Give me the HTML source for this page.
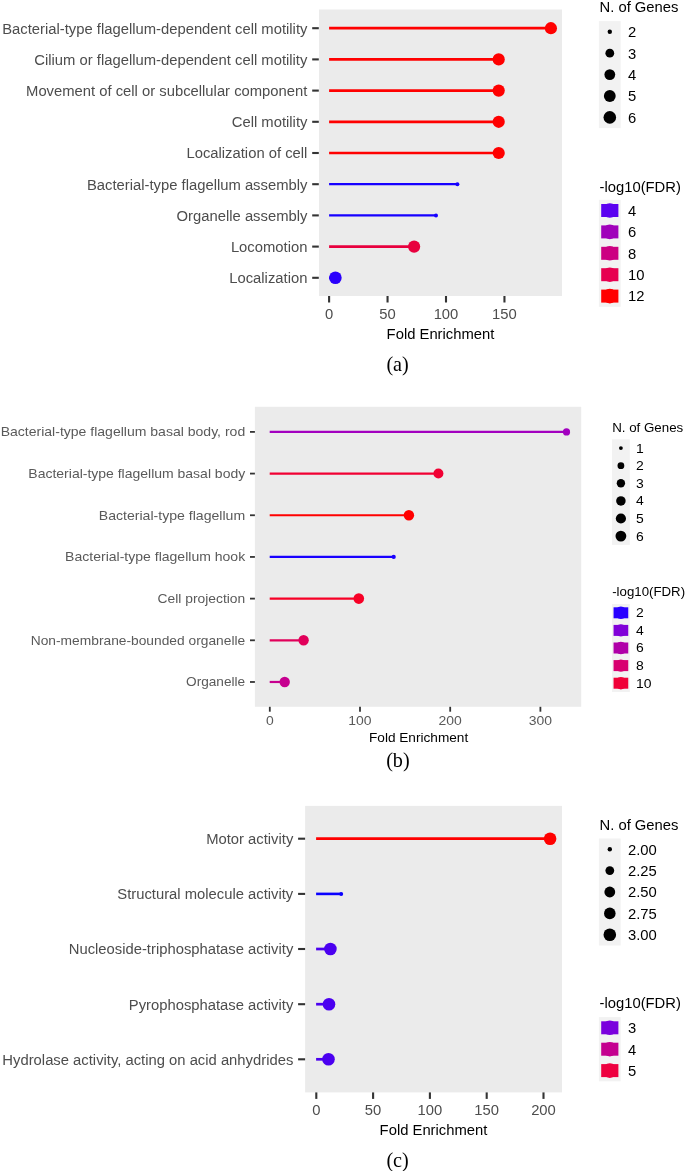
<!DOCTYPE html>
<html><head><meta charset="utf-8"><style>
html,body{margin:0;padding:0;background:#fff;overflow:hidden;}
svg{display:block;will-change:transform;}
text{font-family:"Liberation Sans",sans-serif;}
</style></head><body>
<svg width="685" height="1171" viewBox="0 0 685 1171">
<rect width="685" height="1171" fill="#fff"/>
<rect x="319" y="9.5" width="243" height="286.5" fill="#EBEBEB"/>
<line x1="312.2" y1="28.2" x2="318.8" y2="28.2" stroke="#333333" stroke-width="2.1" stroke-linecap="butt"/>
<text x="307.4" y="33.5" font-size="15.2" fill="#4D4D4D" text-anchor="end" textLength="305.19" lengthAdjust="spacingAndGlyphs">Bacterial-type flagellum-dependent cell motility</text>
<line x1="329.1" y1="28.2" x2="550.9" y2="28.2" stroke="#FF0000" stroke-width="2.7" stroke-linecap="butt"/>
<circle cx="550.9" cy="28.2" r="6.1" fill="#FF0000"/>
<line x1="312.2" y1="59.4" x2="318.8" y2="59.4" stroke="#333333" stroke-width="2.1" stroke-linecap="butt"/>
<text x="307.4" y="64.7" font-size="15.2" fill="#4D4D4D" text-anchor="end" textLength="273.09" lengthAdjust="spacingAndGlyphs">Cilium or flagellum-dependent cell motility</text>
<line x1="329.1" y1="59.4" x2="498.7" y2="59.4" stroke="#FF0000" stroke-width="2.7" stroke-linecap="butt"/>
<circle cx="498.7" cy="59.4" r="6.1" fill="#FF0000"/>
<line x1="312.2" y1="90.6" x2="318.8" y2="90.6" stroke="#333333" stroke-width="2.1" stroke-linecap="butt"/>
<text x="307.4" y="95.9" font-size="15.2" fill="#4D4D4D" text-anchor="end" textLength="281.34" lengthAdjust="spacingAndGlyphs">Movement of cell or subcellular component</text>
<line x1="329.1" y1="90.6" x2="498.7" y2="90.6" stroke="#FF0000" stroke-width="2.7" stroke-linecap="butt"/>
<circle cx="498.7" cy="90.6" r="6.1" fill="#FF0000"/>
<line x1="312.2" y1="121.8" x2="318.8" y2="121.8" stroke="#333333" stroke-width="2.1" stroke-linecap="butt"/>
<text x="307.4" y="127.1" font-size="15.2" fill="#4D4D4D" text-anchor="end" textLength="75.65" lengthAdjust="spacingAndGlyphs">Cell motility</text>
<line x1="329.1" y1="121.8" x2="498.7" y2="121.8" stroke="#FF0000" stroke-width="2.7" stroke-linecap="butt"/>
<circle cx="498.7" cy="121.8" r="6.1" fill="#FF0000"/>
<line x1="312.2" y1="153.0" x2="318.8" y2="153.0" stroke="#333333" stroke-width="2.1" stroke-linecap="butt"/>
<text x="307.4" y="158.3" font-size="15.2" fill="#4D4D4D" text-anchor="end" textLength="120.94" lengthAdjust="spacingAndGlyphs">Localization of cell</text>
<line x1="329.1" y1="153.0" x2="498.7" y2="153.0" stroke="#FF0000" stroke-width="2.7" stroke-linecap="butt"/>
<circle cx="498.7" cy="153.0" r="6.1" fill="#FF0000"/>
<line x1="312.2" y1="184.2" x2="318.8" y2="184.2" stroke="#333333" stroke-width="2.1" stroke-linecap="butt"/>
<text x="307.4" y="189.5" font-size="15.2" fill="#4D4D4D" text-anchor="end" textLength="220.45" lengthAdjust="spacingAndGlyphs">Bacterial-type flagellum assembly</text>
<line x1="329.1" y1="184.2" x2="457.4" y2="184.2" stroke="#1600FF" stroke-width="2.3" stroke-linecap="butt"/>
<circle cx="457.4" cy="184.2" r="2.0" fill="#1600FF"/>
<line x1="312.2" y1="215.4" x2="318.8" y2="215.4" stroke="#333333" stroke-width="2.1" stroke-linecap="butt"/>
<text x="307.4" y="220.7" font-size="15.2" fill="#4D4D4D" text-anchor="end" textLength="130.79" lengthAdjust="spacingAndGlyphs">Organelle assembly</text>
<line x1="329.1" y1="215.4" x2="436.0" y2="215.4" stroke="#1600FF" stroke-width="2.3" stroke-linecap="butt"/>
<circle cx="436.0" cy="215.4" r="2.0" fill="#1600FF"/>
<line x1="312.2" y1="246.6" x2="318.8" y2="246.6" stroke="#333333" stroke-width="2.1" stroke-linecap="butt"/>
<text x="307.4" y="251.9" font-size="15.2" fill="#4D4D4D" text-anchor="end" textLength="76.51" lengthAdjust="spacingAndGlyphs">Locomotion</text>
<line x1="329.1" y1="246.6" x2="414.1" y2="246.6" stroke="#E8003E" stroke-width="2.7" stroke-linecap="butt"/>
<circle cx="414.1" cy="246.6" r="6.1" fill="#E8003E"/>
<line x1="312.2" y1="277.8" x2="318.8" y2="277.8" stroke="#333333" stroke-width="2.1" stroke-linecap="butt"/>
<text x="307.4" y="283.1" font-size="15.2" fill="#4D4D4D" text-anchor="end" textLength="78.16" lengthAdjust="spacingAndGlyphs">Localization</text>
<line x1="329.1" y1="277.8" x2="335.4" y2="277.8" stroke="#2A00FC" stroke-width="2.7" stroke-linecap="butt"/>
<circle cx="335.4" cy="277.8" r="6.3" fill="#2A00FC"/>
<line x1="329.1" y1="296" x2="329.1" y2="302.5" stroke="#333333" stroke-width="2.1" stroke-linecap="butt"/>
<text x="329.1" y="318.6" font-size="15.2" fill="#4D4D4D" text-anchor="middle" textLength="8.23" lengthAdjust="spacingAndGlyphs">0</text>
<line x1="387.55" y1="296" x2="387.55" y2="302.5" stroke="#333333" stroke-width="2.1" stroke-linecap="butt"/>
<text x="387.55" y="318.6" font-size="15.2" fill="#4D4D4D" text-anchor="middle" textLength="16.46" lengthAdjust="spacingAndGlyphs">50</text>
<line x1="446.0" y1="296" x2="446.0" y2="302.5" stroke="#333333" stroke-width="2.1" stroke-linecap="butt"/>
<text x="446.0" y="318.6" font-size="15.2" fill="#4D4D4D" text-anchor="middle" textLength="24.69" lengthAdjust="spacingAndGlyphs">100</text>
<line x1="504.45" y1="296" x2="504.45" y2="302.5" stroke="#333333" stroke-width="2.1" stroke-linecap="butt"/>
<text x="504.45" y="318.6" font-size="15.2" fill="#4D4D4D" text-anchor="middle" textLength="24.69" lengthAdjust="spacingAndGlyphs">150</text>
<text x="440.5" y="338.8" font-size="15.2" fill="#000" text-anchor="middle" textLength="107.76" lengthAdjust="spacingAndGlyphs">Fold Enrichment</text>
<text x="599.5" y="11.6" font-size="15.2" fill="#000" text-anchor="start" textLength="78.97" lengthAdjust="spacingAndGlyphs">N. of Genes</text>
<rect x="598.9" y="21.1" width="21.8" height="107.0" fill="#F2F2F2"/>
<circle cx="609.8" cy="31.8" r="2.2" fill="#000"/>
<text x="628" y="37.1" font-size="15.2" fill="#000" text-anchor="start" textLength="8.23" lengthAdjust="spacingAndGlyphs">2</text>
<circle cx="609.8" cy="53.2" r="4.4" fill="#000"/>
<text x="628" y="58.5" font-size="15.2" fill="#000" text-anchor="start" textLength="8.23" lengthAdjust="spacingAndGlyphs">3</text>
<circle cx="609.8" cy="74.6" r="5.4" fill="#000"/>
<text x="628" y="79.9" font-size="15.2" fill="#000" text-anchor="start" textLength="8.23" lengthAdjust="spacingAndGlyphs">4</text>
<circle cx="609.8" cy="96.0" r="5.9" fill="#000"/>
<text x="628" y="101.3" font-size="15.2" fill="#000" text-anchor="start" textLength="8.23" lengthAdjust="spacingAndGlyphs">5</text>
<circle cx="609.8" cy="117.4" r="6.3" fill="#000"/>
<text x="628" y="122.7" font-size="15.2" fill="#000" text-anchor="start" textLength="8.23" lengthAdjust="spacingAndGlyphs">6</text>
<text x="599.5" y="191.9" font-size="15.2" fill="#000" text-anchor="start" textLength="81.41" lengthAdjust="spacingAndGlyphs">-log10(FDR)</text>
<rect x="598.9" y="199.8" width="21.8" height="107.0" fill="#F2F2F2"/>
<rect x="601.2" y="204.0" width="17.2" height="13" fill="#5A00F0"/>
<circle cx="609.8" cy="210.5" r="7.3" fill="#5A00F0"/>
<text x="628" y="215.8" font-size="15.2" fill="#000" text-anchor="start" textLength="8.23" lengthAdjust="spacingAndGlyphs">4</text>
<rect x="601.2" y="225.4" width="17.2" height="13" fill="#A000BA"/>
<circle cx="609.8" cy="231.9" r="7.3" fill="#A000BA"/>
<text x="628" y="237.2" font-size="15.2" fill="#000" text-anchor="start" textLength="8.23" lengthAdjust="spacingAndGlyphs">6</text>
<rect x="601.2" y="246.8" width="17.2" height="13" fill="#CC0082"/>
<circle cx="609.8" cy="253.3" r="7.3" fill="#CC0082"/>
<text x="628" y="258.6" font-size="15.2" fill="#000" text-anchor="start" textLength="8.23" lengthAdjust="spacingAndGlyphs">8</text>
<rect x="601.2" y="268.2" width="17.2" height="13" fill="#E70050"/>
<circle cx="609.8" cy="274.7" r="7.3" fill="#E70050"/>
<text x="628" y="280.0" font-size="15.2" fill="#000" text-anchor="start" textLength="16.46" lengthAdjust="spacingAndGlyphs">10</text>
<rect x="601.2" y="289.6" width="17.2" height="13" fill="#FF0000"/>
<circle cx="609.8" cy="296.1" r="7.3" fill="#FF0000"/>
<text x="628" y="301.4" font-size="15.2" fill="#000" text-anchor="start" textLength="16.46" lengthAdjust="spacingAndGlyphs">12</text>
<text x="397.6" y="371.2" font-size="20.2" fill="#000" text-anchor="middle" style='font-family:"Liberation Serif",serif'>(a)</text>
<rect x="254.9" y="406.8" width="326.30000000000007" height="299.99999999999994" fill="#EBEBEB"/>
<line x1="250" y1="431.9" x2="254.9" y2="431.9" stroke="#333333" stroke-width="1.8" stroke-linecap="butt"/>
<text x="245.2" y="436.2" font-size="12.8" fill="#5A5A5A" text-anchor="end" textLength="244.54" lengthAdjust="spacingAndGlyphs">Bacterial-type flagellum basal body, rod</text>
<line x1="269.7" y1="431.9" x2="566.5" y2="431.9" stroke="#A200BF" stroke-width="2.2" stroke-linecap="butt"/>
<circle cx="566.5" cy="431.9" r="3.6" fill="#A200BF"/>
<line x1="250" y1="473.58" x2="254.9" y2="473.58" stroke="#333333" stroke-width="1.8" stroke-linecap="butt"/>
<text x="245.2" y="477.88" font-size="12.8" fill="#5A5A5A" text-anchor="end" textLength="216.82" lengthAdjust="spacingAndGlyphs">Bacterial-type flagellum basal body</text>
<line x1="269.7" y1="473.58" x2="438.4" y2="473.58" stroke="#F10033" stroke-width="2.2" stroke-linecap="butt"/>
<circle cx="438.4" cy="473.58" r="5.0" fill="#F10033"/>
<line x1="250" y1="515.26" x2="254.9" y2="515.26" stroke="#333333" stroke-width="1.8" stroke-linecap="butt"/>
<text x="245.2" y="519.56" font-size="12.8" fill="#5A5A5A" text-anchor="end" textLength="146.45" lengthAdjust="spacingAndGlyphs">Bacterial-type flagellum</text>
<line x1="269.7" y1="515.26" x2="408.9" y2="515.26" stroke="#FF0000" stroke-width="2.2" stroke-linecap="butt"/>
<circle cx="408.9" cy="515.26" r="5.25" fill="#FF0000"/>
<line x1="250" y1="556.94" x2="254.9" y2="556.94" stroke="#333333" stroke-width="1.8" stroke-linecap="butt"/>
<text x="245.2" y="561.24" font-size="12.8" fill="#5A5A5A" text-anchor="end" textLength="180.06" lengthAdjust="spacingAndGlyphs">Bacterial-type flagellum hook</text>
<line x1="269.7" y1="556.94" x2="393.7" y2="556.94" stroke="#1800FF" stroke-width="2.2" stroke-linecap="butt"/>
<circle cx="393.7" cy="556.94" r="2.1" fill="#1800FF"/>
<line x1="250" y1="598.62" x2="254.9" y2="598.62" stroke="#333333" stroke-width="1.8" stroke-linecap="butt"/>
<text x="245.2" y="602.92" font-size="12.8" fill="#5A5A5A" text-anchor="end" textLength="87.61" lengthAdjust="spacingAndGlyphs">Cell projection</text>
<line x1="269.7" y1="598.62" x2="358.8" y2="598.62" stroke="#F70026" stroke-width="2.2" stroke-linecap="butt"/>
<circle cx="358.8" cy="598.62" r="5.3" fill="#F70026"/>
<line x1="250" y1="640.3" x2="254.9" y2="640.3" stroke="#333333" stroke-width="1.8" stroke-linecap="butt"/>
<text x="245.2" y="644.6" font-size="12.8" fill="#5A5A5A" text-anchor="end" textLength="214.43" lengthAdjust="spacingAndGlyphs">Non-membrane-bounded organelle</text>
<line x1="269.7" y1="640.3" x2="303.6" y2="640.3" stroke="#E1005A" stroke-width="2.2" stroke-linecap="butt"/>
<circle cx="303.6" cy="640.3" r="5.2" fill="#E1005A"/>
<line x1="250" y1="681.98" x2="254.9" y2="681.98" stroke="#333333" stroke-width="1.8" stroke-linecap="butt"/>
<text x="245.2" y="686.28" font-size="12.8" fill="#5A5A5A" text-anchor="end" textLength="59.15" lengthAdjust="spacingAndGlyphs">Organelle</text>
<line x1="269.7" y1="681.98" x2="284.7" y2="681.98" stroke="#C6008F" stroke-width="2.2" stroke-linecap="butt"/>
<circle cx="284.7" cy="681.98" r="5.2" fill="#C6008F"/>
<line x1="269.8" y1="706.8" x2="269.8" y2="711.6999999999999" stroke="#333333" stroke-width="1.8" stroke-linecap="butt"/>
<text x="269.8" y="724.9" font-size="12.8" fill="#5A5A5A" text-anchor="middle" textLength="7.76" lengthAdjust="spacingAndGlyphs">0</text>
<line x1="360.0" y1="706.8" x2="360.0" y2="711.6999999999999" stroke="#333333" stroke-width="1.8" stroke-linecap="butt"/>
<text x="360.0" y="724.9" font-size="12.8" fill="#5A5A5A" text-anchor="middle" textLength="23.29" lengthAdjust="spacingAndGlyphs">100</text>
<line x1="450.2" y1="706.8" x2="450.2" y2="711.6999999999999" stroke="#333333" stroke-width="1.8" stroke-linecap="butt"/>
<text x="450.2" y="724.9" font-size="12.8" fill="#5A5A5A" text-anchor="middle" textLength="23.29" lengthAdjust="spacingAndGlyphs">200</text>
<line x1="540.4" y1="706.8" x2="540.4" y2="711.6999999999999" stroke="#333333" stroke-width="1.8" stroke-linecap="butt"/>
<text x="540.4" y="724.9" font-size="12.8" fill="#5A5A5A" text-anchor="middle" textLength="23.29" lengthAdjust="spacingAndGlyphs">300</text>
<text x="418.6" y="741.9" font-size="12.8" fill="#000" text-anchor="middle" textLength="99.25" lengthAdjust="spacingAndGlyphs">Fold Enrichment</text>
<text x="612.2" y="432.1" font-size="12.8" fill="#000" text-anchor="start" textLength="71.07" lengthAdjust="spacingAndGlyphs">N. of Genes</text>
<rect x="612" y="439.3" width="17.8" height="105.60000000000001" fill="#F2F2F2"/>
<circle cx="620.9" cy="448.1" r="1.9" fill="#000"/>
<text x="636" y="452.5" font-size="12.8" fill="#000" text-anchor="start" textLength="7.76" lengthAdjust="spacingAndGlyphs">1</text>
<circle cx="620.9" cy="465.7" r="3.4" fill="#000"/>
<text x="636" y="470.1" font-size="12.8" fill="#000" text-anchor="start" textLength="7.76" lengthAdjust="spacingAndGlyphs">2</text>
<circle cx="620.9" cy="483.3" r="4.2" fill="#000"/>
<text x="636" y="487.7" font-size="12.8" fill="#000" text-anchor="start" textLength="7.76" lengthAdjust="spacingAndGlyphs">3</text>
<circle cx="620.9" cy="500.9" r="4.75" fill="#000"/>
<text x="636" y="505.3" font-size="12.8" fill="#000" text-anchor="start" textLength="7.76" lengthAdjust="spacingAndGlyphs">4</text>
<circle cx="620.9" cy="518.5" r="5.1" fill="#000"/>
<text x="636" y="522.9" font-size="12.8" fill="#000" text-anchor="start" textLength="7.76" lengthAdjust="spacingAndGlyphs">5</text>
<circle cx="620.9" cy="536.1" r="5.4" fill="#000"/>
<text x="636" y="540.5" font-size="12.8" fill="#000" text-anchor="start" textLength="7.76" lengthAdjust="spacingAndGlyphs">6</text>
<text x="612.2" y="596.2" font-size="12.8" fill="#000" text-anchor="start" textLength="72.93" lengthAdjust="spacingAndGlyphs">-log10(FDR)</text>
<rect x="612" y="604" width="17.8" height="88.0" fill="#F2F2F2"/>
<rect x="613.55" y="607.3" width="14.7" height="11" fill="#2800FF"/>
<circle cx="620.9" cy="612.8" r="6.2" fill="#2800FF"/>
<text x="636" y="617.2" font-size="12.8" fill="#000" text-anchor="start" textLength="7.76" lengthAdjust="spacingAndGlyphs">2</text>
<rect x="613.55" y="624.9" width="14.7" height="11" fill="#8000D8"/>
<circle cx="620.9" cy="630.4" r="6.2" fill="#8000D8"/>
<text x="636" y="634.8" font-size="12.8" fill="#000" text-anchor="start" textLength="7.76" lengthAdjust="spacingAndGlyphs">4</text>
<rect x="613.55" y="642.5" width="14.7" height="11" fill="#B000A8"/>
<circle cx="620.9" cy="648.0" r="6.2" fill="#B000A8"/>
<text x="636" y="652.4" font-size="12.8" fill="#000" text-anchor="start" textLength="7.76" lengthAdjust="spacingAndGlyphs">6</text>
<rect x="613.55" y="660.1" width="14.7" height="11" fill="#D80070"/>
<circle cx="620.9" cy="665.6" r="6.2" fill="#D80070"/>
<text x="636" y="670.0" font-size="12.8" fill="#000" text-anchor="start" textLength="7.76" lengthAdjust="spacingAndGlyphs">8</text>
<rect x="613.55" y="677.7" width="14.7" height="11" fill="#F00038"/>
<circle cx="620.9" cy="683.2" r="6.2" fill="#F00038"/>
<text x="636" y="687.6" font-size="12.8" fill="#000" text-anchor="start" textLength="15.52" lengthAdjust="spacingAndGlyphs">10</text>
<text x="397.9" y="767.0" font-size="20.2" fill="#000" text-anchor="middle" style='font-family:"Liberation Serif",serif'>(b)</text>
<rect x="305.1" y="805.9" width="256.9" height="286.5000000000001" fill="#EBEBEB"/>
<line x1="298.1" y1="838.7" x2="305.1" y2="838.7" stroke="#333333" stroke-width="2.1" stroke-linecap="butt"/>
<text x="293.3" y="844.0" font-size="15.2" fill="#4D4D4D" text-anchor="end" textLength="87.17" lengthAdjust="spacingAndGlyphs">Motor activity</text>
<line x1="316.1" y1="838.7" x2="550.1" y2="838.7" stroke="#FF0000" stroke-width="2.7" stroke-linecap="butt"/>
<circle cx="550.1" cy="838.7" r="6.3" fill="#FF0000"/>
<line x1="298.1" y1="893.9" x2="305.1" y2="893.9" stroke="#333333" stroke-width="2.1" stroke-linecap="butt"/>
<text x="293.3" y="899.2" font-size="15.2" fill="#4D4D4D" text-anchor="end" textLength="176.02" lengthAdjust="spacingAndGlyphs">Structural molecule activity</text>
<line x1="316.1" y1="893.9" x2="341.2" y2="893.9" stroke="#0A00FF" stroke-width="2.6" stroke-linecap="butt"/>
<circle cx="341.2" cy="893.9" r="2.0" fill="#0A00FF"/>
<line x1="298.1" y1="949.0" x2="305.1" y2="949.0" stroke="#333333" stroke-width="2.1" stroke-linecap="butt"/>
<text x="293.3" y="954.3" font-size="15.2" fill="#4D4D4D" text-anchor="end" textLength="224.58" lengthAdjust="spacingAndGlyphs">Nucleoside-triphosphatase activity</text>
<line x1="316.1" y1="949.0" x2="330.4" y2="949.0" stroke="#4B00F0" stroke-width="2.7" stroke-linecap="butt"/>
<circle cx="330.4" cy="949.0" r="6.3" fill="#4B00F0"/>
<line x1="298.1" y1="1004.2" x2="305.1" y2="1004.2" stroke="#333333" stroke-width="2.1" stroke-linecap="butt"/>
<text x="293.3" y="1009.5" font-size="15.2" fill="#4D4D4D" text-anchor="end" textLength="164.53" lengthAdjust="spacingAndGlyphs">Pyrophosphatase activity</text>
<line x1="316.1" y1="1004.2" x2="329.0" y2="1004.2" stroke="#4B00F0" stroke-width="2.7" stroke-linecap="butt"/>
<circle cx="329.0" cy="1004.2" r="6.3" fill="#4B00F0"/>
<line x1="298.1" y1="1059.3" x2="305.1" y2="1059.3" stroke="#333333" stroke-width="2.1" stroke-linecap="butt"/>
<text x="293.3" y="1064.6" font-size="15.2" fill="#4D4D4D" text-anchor="end" textLength="290.94" lengthAdjust="spacingAndGlyphs">Hydrolase activity, acting on acid anhydrides</text>
<line x1="316.1" y1="1059.3" x2="328.5" y2="1059.3" stroke="#4B00F0" stroke-width="2.7" stroke-linecap="butt"/>
<circle cx="328.5" cy="1059.3" r="6.3" fill="#4B00F0"/>
<line x1="316.3" y1="1092.4" x2="316.3" y2="1098.9" stroke="#333333" stroke-width="2.1" stroke-linecap="butt"/>
<text x="316.3" y="1114.5" font-size="15.2" fill="#4D4D4D" text-anchor="middle" textLength="8.23" lengthAdjust="spacingAndGlyphs">0</text>
<line x1="373.1" y1="1092.4" x2="373.1" y2="1098.9" stroke="#333333" stroke-width="2.1" stroke-linecap="butt"/>
<text x="373.1" y="1114.5" font-size="15.2" fill="#4D4D4D" text-anchor="middle" textLength="16.46" lengthAdjust="spacingAndGlyphs">50</text>
<line x1="429.9" y1="1092.4" x2="429.9" y2="1098.9" stroke="#333333" stroke-width="2.1" stroke-linecap="butt"/>
<text x="429.9" y="1114.5" font-size="15.2" fill="#4D4D4D" text-anchor="middle" textLength="24.69" lengthAdjust="spacingAndGlyphs">100</text>
<line x1="486.7" y1="1092.4" x2="486.7" y2="1098.9" stroke="#333333" stroke-width="2.1" stroke-linecap="butt"/>
<text x="486.7" y="1114.5" font-size="15.2" fill="#4D4D4D" text-anchor="middle" textLength="24.69" lengthAdjust="spacingAndGlyphs">150</text>
<line x1="543.5" y1="1092.4" x2="543.5" y2="1098.9" stroke="#333333" stroke-width="2.1" stroke-linecap="butt"/>
<text x="543.5" y="1114.5" font-size="15.2" fill="#4D4D4D" text-anchor="middle" textLength="24.69" lengthAdjust="spacingAndGlyphs">200</text>
<text x="433.5" y="1135.1" font-size="15.2" fill="#000" text-anchor="middle" textLength="107.76" lengthAdjust="spacingAndGlyphs">Fold Enrichment</text>
<text x="599.5" y="829.6" font-size="15.2" fill="#000" text-anchor="start" textLength="78.97" lengthAdjust="spacingAndGlyphs">N. of Genes</text>
<rect x="598.9" y="838.5" width="21.8" height="107.0" fill="#F2F2F2"/>
<circle cx="609.8" cy="849.2" r="2.2" fill="#000"/>
<text x="628" y="854.5" font-size="15.2" fill="#000" text-anchor="start" textLength="28.81" lengthAdjust="spacingAndGlyphs">2.00</text>
<circle cx="609.8" cy="870.6" r="4.4" fill="#000"/>
<text x="628" y="875.9" font-size="15.2" fill="#000" text-anchor="start" textLength="28.81" lengthAdjust="spacingAndGlyphs">2.25</text>
<circle cx="609.8" cy="892.0" r="5.4" fill="#000"/>
<text x="628" y="897.3" font-size="15.2" fill="#000" text-anchor="start" textLength="28.81" lengthAdjust="spacingAndGlyphs">2.50</text>
<circle cx="609.8" cy="913.4" r="5.8" fill="#000"/>
<text x="628" y="918.7" font-size="15.2" fill="#000" text-anchor="start" textLength="28.81" lengthAdjust="spacingAndGlyphs">2.75</text>
<circle cx="609.8" cy="934.8" r="6.3" fill="#000"/>
<text x="628" y="940.1" font-size="15.2" fill="#000" text-anchor="start" textLength="28.81" lengthAdjust="spacingAndGlyphs">3.00</text>
<text x="599.5" y="1007.9" font-size="15.2" fill="#000" text-anchor="start" textLength="81.41" lengthAdjust="spacingAndGlyphs">-log10(FDR)</text>
<rect x="598.9" y="1017.1" width="21.8" height="64.19999999999999" fill="#F2F2F2"/>
<rect x="601.2" y="1021.3" width="17.2" height="13" fill="#7A00DD"/>
<circle cx="609.8" cy="1027.8" r="7.3" fill="#7A00DD"/>
<text x="628" y="1033.1" font-size="15.2" fill="#000" text-anchor="start" textLength="8.23" lengthAdjust="spacingAndGlyphs">3</text>
<rect x="601.2" y="1042.7" width="17.2" height="13" fill="#C4008F"/>
<circle cx="609.8" cy="1049.2" r="7.3" fill="#C4008F"/>
<text x="628" y="1054.5" font-size="15.2" fill="#000" text-anchor="start" textLength="8.23" lengthAdjust="spacingAndGlyphs">4</text>
<rect x="601.2" y="1064.1" width="17.2" height="13" fill="#EE0040"/>
<circle cx="609.8" cy="1070.6" r="7.3" fill="#EE0040"/>
<text x="628" y="1075.9" font-size="15.2" fill="#000" text-anchor="start" textLength="8.23" lengthAdjust="spacingAndGlyphs">5</text>
<text x="397.6" y="1166.6" font-size="20.2" fill="#000" text-anchor="middle" style='font-family:"Liberation Serif",serif'>(c)</text>
</svg></body></html>
